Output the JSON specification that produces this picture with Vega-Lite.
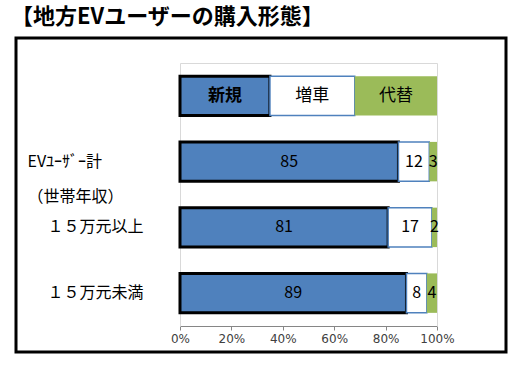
{
  "$schema": "https://vega.github.io/schema/vega-lite/v6.json",
  "width": 490,
  "height": 314,
  "autosize": {"type": "none"},
  "padding": {"left": 16, "top": 38, "right": 14, "bottom": 18},
  "background": "#ffffff",
  "title": {
    "text": "【地方EVユーザーの購入形態】",
    "anchor": "start",
    "frame": "group",
    "font": "Noto Sans CJK JP",
    "fontSize": 22,
    "fontWeight": "bold",
    "color": "#000000",
    "offset": 9,
    "dx": -5
  },
  "data": {
    "values": [
      {"row": "legend", "type": "新規", "k": 1, "value": 35, "label": "新規"},
      {"row": "legend", "type": "増車", "k": 2, "value": 33, "label": "増車"},
      {"row": "legend", "type": "代替", "k": 3, "value": 32, "label": "代替"},
      {"row": "EVﾕｰｻﾞｰ計", "type": "新規", "k": 1, "value": 85, "label": "85"},
      {"row": "EVﾕｰｻﾞｰ計", "type": "増車", "k": 2, "value": 12, "label": "12"},
      {"row": "EVﾕｰｻﾞｰ計", "type": "代替", "k": 3, "value": 3, "label": "3"},
      {"row": "１５万元以上", "type": "新規", "k": 1, "value": 81, "label": "81"},
      {"row": "１５万元以上", "type": "増車", "k": 2, "value": 17, "label": "17"},
      {"row": "１５万元以上", "type": "代替", "k": 3, "value": 2, "label": "2"},
      {"row": "１５万元未満", "type": "新規", "k": 1, "value": 89, "label": "89"},
      {"row": "１５万元未満", "type": "増車", "k": 2, "value": 8, "label": "8"},
      {"row": "１５万元未満", "type": "代替", "k": 3, "value": 4, "label": "4"}
    ]
  },
  "layer": [
    {
      "mark": {"type": "bar"},
      "encoding": {
        "x": {
          "field": "value",
          "type": "quantitative",
          "stack": "normalize",
          "scale": {"domain": [0, 1], "range": [164, 421], "nice": false},
          "axis": {
            "orient": "bottom",
            "offset": -26,
            "values": [0, 0.2, 0.4, 0.6, 0.8, 1],
            "format": ".0%",
            "title": null,
            "grid": false,
            "labelFlush": false,
            "domainColor": "#868686",
            "tickColor": "#868686",
            "tickSize": 4,
            "labelFontSize": 12,
            "labelColor": "#404040",
            "labelPadding": 3,
            "labelFont": "DejaVu Sans"
          }
        },
        "y": {
          "field": "row",
          "type": "nominal",
          "sort": ["legend", "EVﾕｰｻﾞｰ計", "１５万元以上", "１５万元未満"],
          "scale": {"range": [25, 288], "paddingInner": 0.4, "paddingOuter": 0.2},
          "axis": {
            "orient": "left",
            "offset": -164,
            "title": null,
            "ticks": false,
            "tickSize": 0,
            "domainColor": "#D9D9D9",
            "labelAlign": "left",
            "labelBaseline": "middle",
            "labelPadding": 153,
            "labelFontSize": 16,
            "labelColor": "#000000",
            "labelFont": "Noto Sans CJK JP",
            "labelLineHeight": 35,
            "labelExpr": "datum.value === 'legend' ? '' : datum.value === 'EVﾕｰｻﾞｰ計' ? ['EVﾕｰｻﾞｰ計', '（世帯年収）'] : '\u200b\u3000\u2005' + datum.value"
          }
        },
        "color": {
          "field": "type",
          "type": "nominal",
          "scale": {"domain": ["新規", "増車", "代替"], "range": ["#4F81BD", "#FFFFFF", "#9BBB59"]},
          "legend": null
        },
        "stroke": {
          "condition": [{"test": "datum.type === '新規'", "value": "#000000"}],
          "value": "#4F81BD"
        },
        "strokeWidth": {
          "condition": [
            {"test": "datum.type === '新規'", "value": 3},
            {"test": "datum.type === '代替'", "value": 0}
          ],
          "value": 1.5
        },
        "order": {"field": "k", "type": "quantitative"}
      }
    },
    {
      "mark": {"type": "text", "font": "Noto Sans CJK JP", "color": "#000000", "baseline": "middle", "align": "center"},
      "encoding": {
        "x": {
          "field": "value",
          "type": "quantitative",
          "stack": "normalize",
          "bandPosition": 0.5,
          "axis": {
            "orient": "top",
            "offset": -25,
            "labels": false,
            "ticks": false,
            "title": null,
            "grid": false,
            "domainColor": "#D9D9D9"
          }
        },
        "y": {
          "field": "row",
          "type": "nominal",
          "sort": ["legend", "EVﾕｰｻﾞｰ計", "１５万元以上", "１５万元未満"],
          "axis": {
            "orient": "right",
            "offset": -69,
            "labels": false,
            "ticks": false,
            "title": null,
            "domainColor": "#D9D9D9"
          }
        },
        "text": {"condition": {"test": "datum.label === '新規'", "value": ""}, "field": "label"},
        "order": {"field": "k", "type": "quantitative"},
        "size": {"condition": {"test": "datum.row === 'legend'", "value": 17}, "value": 16}
      }
    },
    {
      "mark": {"type": "text", "font": "Noto Sans CJK JP", "color": "#000000", "baseline": "middle", "align": "center", "fontWeight": "bold", "fontSize": 17},
      "encoding": {
        "x": {
          "field": "value",
          "type": "quantitative",
          "stack": "normalize",
          "bandPosition": 0.5,
          "axis": null
        },
        "y": {
          "field": "row",
          "type": "nominal",
          "sort": ["legend", "EVﾕｰｻﾞｰ計", "１５万元以上", "１５万元未満"],
          "axis": null
        },
        "text": {"condition": {"test": "datum.label === '新規'", "field": "label"}, "value": ""},
        "order": {"field": "k", "type": "quantitative"}
      }
    }
  ],
  "resolve": {"axis": {"x": "independent", "y": "independent"}},
  "config": {
    "view": {"stroke": "#000000", "strokeWidth": 3},
    "axis": {"grid": false}
  }
}
